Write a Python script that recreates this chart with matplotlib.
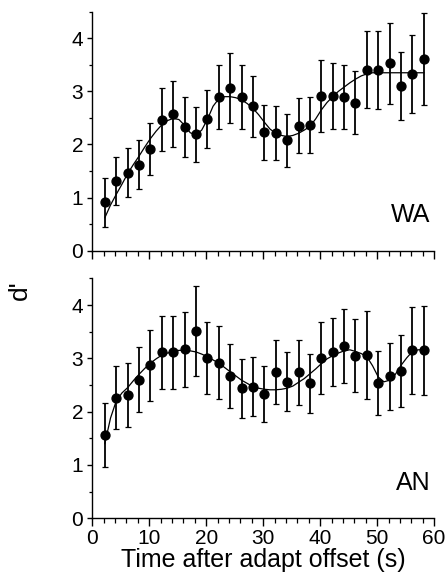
import numpy as np
import matplotlib
matplotlib.use("Agg")
from matplotlib import pyplot as plt
from matplotlib.ticker import MultipleLocator

plt.rcParams['font.family'] = ['Liberation Sans', 'DejaVu Sans']

# time of each measurement (s)
t = [2.2, 4.2, 6.2, 8.2, 10.2, 12.2, 14.2, 16.2, 18.2, 20.2, 22.2, 24.2, 26.2, 28.2, 30.2,
     32.2, 34.2, 36.2, 38.2, 40.2, 42.2, 44.2, 46.2, 48.2, 50.2, 52.2, 54.2, 56.2, 58.2]

# WA panel
wa_d = [0.91, 1.31, 1.47, 1.62, 1.91, 2.47, 2.57, 2.33, 2.19, 2.48, 2.90, 3.06, 2.90, 2.72, 2.23,
        2.22, 2.08, 2.35, 2.37, 2.91, 2.92, 2.90, 2.79, 3.41, 3.40, 3.53, 3.10, 3.33, 3.61]
wa_err = [0.46, 0.45, 0.46, 0.46, 0.49, 0.60, 0.62, 0.56, 0.52, 0.54, 0.60, 0.66, 0.60, 0.57, 0.52,
          0.51, 0.50, 0.52, 0.53, 0.68, 0.62, 0.60, 0.59, 0.73, 0.73, 0.76, 0.64, 0.73, 0.86]

# AN panel
an_d = [1.57, 2.26, 2.31, 2.60, 2.87, 3.11, 3.11, 3.17, 3.51, 3.01, 2.92, 2.67, 2.44, 2.47, 2.33,
        2.74, 2.56, 2.74, 2.53, 3.01, 3.12, 3.23, 3.05, 3.06, 2.53, 2.66, 2.76, 3.15, 3.15]
an_err = [0.60, 0.59, 0.60, 0.61, 0.67, 0.69, 0.69, 0.70, 0.85, 0.68, 0.68, 0.60, 0.55, 0.56, 0.52,
          0.60, 0.55, 0.61, 0.56, 0.68, 0.64, 0.70, 0.69, 0.83, 0.60, 0.62, 0.67, 0.82, 0.84]

# fitted curves, read every 1 s from 2.2 to 58.2
curve_t = np.arange(2.2, 58.3, 1.0)
wa_fit = [0.62, 0.86, 1.06, 1.25, 1.45, 1.62, 1.78, 1.95, 2.11, 2.25, 2.37, 2.45, 2.49, 2.47, 2.36,
          2.22, 2.18, 2.27, 2.47, 2.72, 2.86, 2.90, 2.90, 2.88, 2.84, 2.77, 2.68, 2.56, 2.42, 2.29,
          2.21, 2.17, 2.15, 2.17, 2.21, 2.27, 2.34, 2.48, 2.65, 2.79, 2.90, 3.00, 3.08, 3.16, 3.23,
          3.29, 3.33, 3.35, 3.35, 3.35, 3.35, 3.35, 3.35, 3.35, 3.35, 3.35, 3.35]
an_fit = [1.40, 1.88, 2.20, 2.35, 2.45, 2.58, 2.70, 2.81, 2.91, 2.99, 3.06, 3.10, 3.12, 3.15, 3.15,
          3.14, 3.12, 3.08, 3.03, 2.97, 2.91, 2.83, 2.75, 2.67, 2.59, 2.53, 2.47, 2.44, 2.42, 2.41,
          2.41, 2.42, 2.44, 2.48, 2.55, 2.62, 2.71, 2.80, 2.90, 2.99, 3.05, 3.10, 3.14, 3.16, 3.13,
          3.09, 3.03, 2.86, 2.65, 2.56, 2.59, 2.70, 2.87, 3.01, 3.13, 3.16, 3.16]

fig = plt.figure(figsize=(4.48, 5.81), dpi=100)
ax1 = fig.add_axes([0.206, 0.5685, 0.763, 0.4114])
ax2 = fig.add_axes([0.206, 0.1079, 0.763, 0.413])

panels = [(ax1, wa_d, wa_err, wa_fit, "WA"), (ax2, an_d, an_err, an_fit, "AN")]
for ax, d, err, fit, name in panels:
    ax.plot(curve_t, fit, color='black', lw=0.9, zorder=2)
    ax.errorbar(t, d, yerr=err, fmt='o', color='black', ms=6.4, elinewidth=1.3,
                capsize=2.5, capthick=0.9, zorder=3)
    ax.set_xlim(0, 60)
    ax.set_ylim(0, 4.5)
    ax.spines['top'].set_visible(False)
    ax.spines['right'].set_visible(False)
    ax.spines['left'].set_linewidth(1.0)
    ax.spines['bottom'].set_linewidth(1.0)
    ax.xaxis.set_major_locator(MultipleLocator(10))
    ax.xaxis.set_minor_locator(MultipleLocator(2))
    ax.yaxis.set_major_locator(MultipleLocator(1))
    ax.yaxis.set_minor_locator(MultipleLocator(0.5))
    ax.tick_params(axis='x', which='major', direction='out', length=6, width=1.0, labelsize=15, pad=2)
    ax.tick_params(axis='x', which='minor', direction='out', length=3.5, width=0.9)
    ax.tick_params(axis='y', which='major', direction='out', length=3.5, width=1.0, labelsize=15, pad=3)
    ax.tick_params(axis='y', which='minor', direction='out', length=2.5, width=0.9)
    ax.text(0.99, 0.12, name, transform=ax.transAxes, ha='right', va='baseline', fontsize=18)

ax1.tick_params(axis='x', labelbottom=False)
ax2.set_xlabel("Time after adapt offset (s)", fontsize=18, labelpad=0)
fig.text(0.045, 0.5, "d'", rotation=90, ha='center', va='center', fontsize=19)

fig.savefig("out.png", dpi=100)
